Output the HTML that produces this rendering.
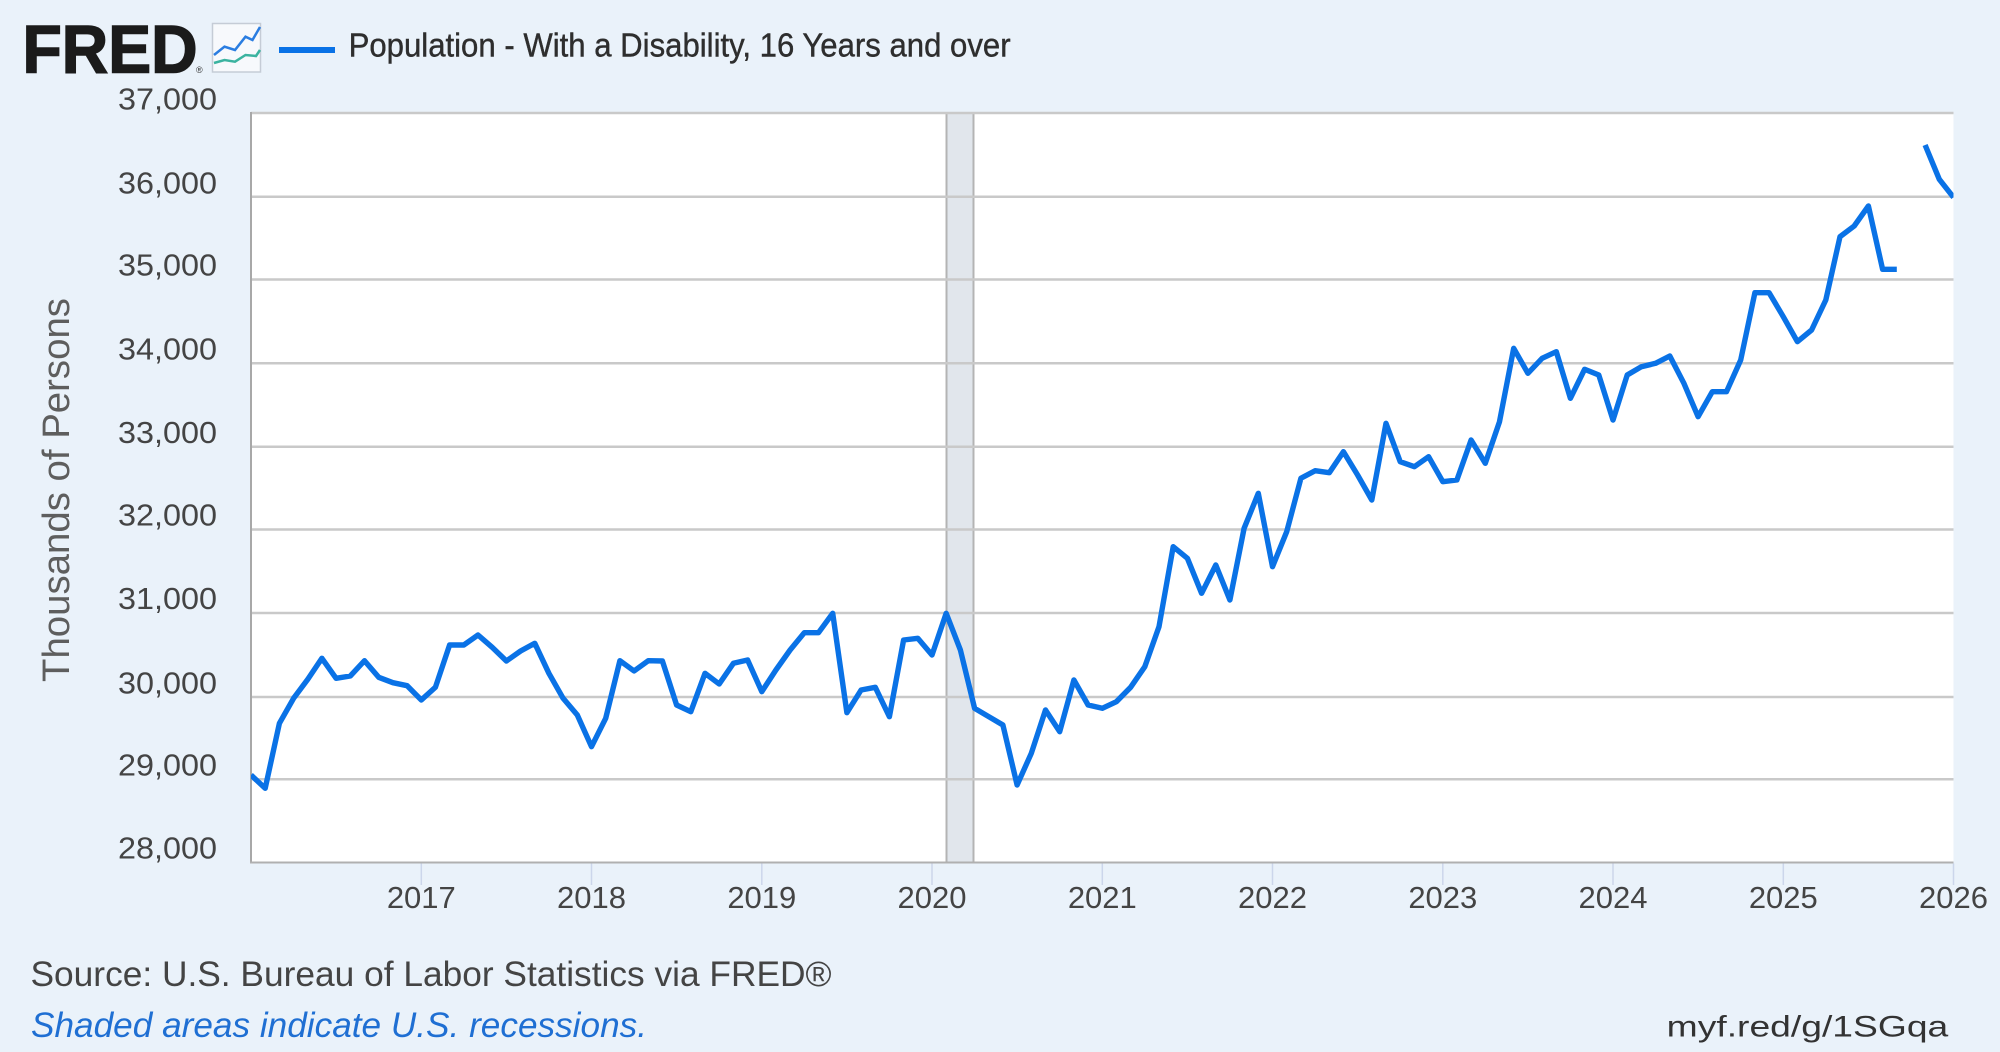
<!DOCTYPE html>
<html>
<head>
<meta charset="utf-8">
<style>
html,body{margin:0;padding:0;background:#eaf2fa;}
svg{display:block;}
</style>
</head>
<body>
<svg width="2000" height="1052" viewBox="0 0 2000 1052" xmlns="http://www.w3.org/2000/svg">
<rect x="0" y="0" width="2000" height="1052" fill="#eaf2fa"/>

<!-- Header -->
<text x="22.5" y="72.7" font-family="Liberation Sans, sans-serif" font-weight="bold" font-size="68" fill="#1b1b1b" stroke="#1b1b1b" stroke-width="1.5" textLength="175" lengthAdjust="spacingAndGlyphs">FRED</text>
<text x="196" y="73" font-family="Liberation Sans, sans-serif" font-size="9" fill="#333">®</text>
<rect x="212.5" y="23.5" width="48" height="48.5" fill="#f7f9fc" stroke="#c5ccd6" stroke-width="1.5"/>
<polyline points="214,55 224.5,46.7 235,50 245.5,36.7 252.5,40 260,27" fill="none" stroke="#2a7de1" stroke-width="2.5"/>
<polyline points="214,63 224.5,60 235,61.7 245.5,55 256,56 260,50" fill="none" stroke="#3bb3a0" stroke-width="2.5"/>
<line x1="279" y1="50" x2="335" y2="50" stroke="#0a72e6" stroke-width="6"/>
<text x="348.6" y="56.7" font-family="Liberation Sans, sans-serif" font-size="33" fill="#2e2e2e" stroke="#2e2e2e" stroke-width="0.4" textLength="662" lengthAdjust="spacingAndGlyphs">Population - With a Disability, 16 Years and over</text>

<!-- Plot area -->
<rect x="251" y="113" width="1702.5" height="749.5" fill="#ffffff"/>
<!-- Recession -->
<rect x="946.5" y="113" width="27" height="749.5" fill="#e1e6ec"/>
<line x1="946.5" y1="113" x2="946.5" y2="862.5" stroke="#b4b4b4" stroke-width="2"/>
<line x1="973.5" y1="113" x2="973.5" y2="862.5" stroke="#b4b4b4" stroke-width="2"/>

<!-- Gridlines -->
<g stroke="#c9c9c9" stroke-width="2.5">
<line x1="251" y1="113" x2="1953.5" y2="113"/>
<line x1="251" y1="196.8" x2="1953.5" y2="196.8"/>
<line x1="251" y1="279.5" x2="1953.5" y2="279.5"/>
<line x1="251" y1="363.2" x2="1953.5" y2="363.2"/>
<line x1="251" y1="446.8" x2="1953.5" y2="446.8"/>
<line x1="251" y1="529.5" x2="1953.5" y2="529.5"/>
<line x1="251" y1="613" x2="1953.5" y2="613"/>
<line x1="251" y1="697" x2="1953.5" y2="697"/>
<line x1="251" y1="779.3" x2="1953.5" y2="779.3"/>
</g>
<!-- axes -->
<line x1="251" y1="112" x2="251" y2="863.5" stroke="#a8a8a8" stroke-width="2"/>
<line x1="250" y1="862.5" x2="1953.5" y2="862.5" stroke="#b0b0b0" stroke-width="2"/>

<!-- x ticks -->
<g stroke="#ccd6eb" stroke-width="1.5">
<line x1="421.3" y1="863.5" x2="421.3" y2="885"/>
<line x1="591.5" y1="863.5" x2="591.5" y2="885"/>
<line x1="761.8" y1="863.5" x2="761.8" y2="885"/>
<line x1="932" y1="863.5" x2="932" y2="885"/>
<line x1="1102.3" y1="863.5" x2="1102.3" y2="885"/>
<line x1="1272.5" y1="863.5" x2="1272.5" y2="885"/>
<line x1="1442.8" y1="863.5" x2="1442.8" y2="885"/>
<line x1="1613" y1="863.5" x2="1613" y2="885"/>
<line x1="1783.3" y1="863.5" x2="1783.3" y2="885"/>
<line x1="1953.5" y1="863.5" x2="1953.5" y2="885"/>
</g>

<!-- Series -->
<defs><clipPath id="pc"><rect x="251" y="100" width="1702.5" height="762.5"/></clipPath></defs>
<g clip-path="url(#pc)" fill="none" stroke="#0a72e6" stroke-width="5.4" stroke-linejoin="round" stroke-linecap="butt">
<polyline points="251.0,775.0 265.2,788.3 279.4,723.3 293.6,698.3 307.8,679.3 321.9,658.3 336.1,678.3 350.3,676.0 364.5,660.7 378.7,677.3 392.9,682.7 407.1,685.7 421.3,700.0 435.4,687.3 449.6,645.0 463.8,645.0 478.0,635.0 492.2,647.3 506.4,661.0 520.6,651.0 534.8,643.3 548.9,673.3 563.1,698.3 577.3,715.0 591.5,746.7 605.7,718.3 619.9,660.7 634.1,671.0 648.3,660.7 662.4,661.0 676.6,705.0 690.8,711.7 705.0,673.3 719.2,684.0 733.4,663.3 747.6,660.0 761.8,691.7 775.9,670.0 790.1,650.0 804.3,632.7 818.5,632.7 832.7,613.3 846.9,712.7 861.1,690.0 875.3,687.3 889.4,716.7 903.6,640.0 917.8,638.3 932.0,655.0 946.2,613.3 960.4,650.0 974.6,708.3 988.8,716.7 1002.9,725.0 1017.1,785.0 1031.3,753.3 1045.5,710.0 1059.7,731.7 1073.9,680.0 1088.1,705.0 1102.3,708.3 1116.4,701.7 1130.6,687.3 1144.8,666.7 1159.0,626.7 1173.2,546.7 1187.4,558.3 1201.6,593.3 1215.8,565.0 1229.9,600.0 1244.1,528.3 1258.3,493.3 1272.5,566.7 1286.7,531.7 1300.9,478.3 1315.1,470.7 1329.3,472.7 1343.4,451.7 1357.6,475.0 1371.8,500.0 1386.0,423.3 1400.2,461.7 1414.4,466.7 1428.6,456.7 1442.8,481.7 1456.9,480.0 1471.1,440.0 1485.3,463.3 1499.5,421.7 1513.7,348.3 1527.9,373.3 1542.1,358.3 1556.3,351.7 1570.4,398.3 1584.6,369.3 1598.8,375.0 1613.0,420.0 1627.2,375.0 1641.4,366.7 1655.6,363.3 1669.8,356.0 1683.9,383.3 1698.1,416.7 1712.3,391.7 1726.5,391.7 1740.7,360.0 1754.9,292.7 1769.1,292.7 1783.3,316.7 1797.4,341.7 1811.6,330.0 1825.8,300.0 1840.0,236.7 1854.2,226.0 1868.4,206.0 1882.6,269.3 1896.8,269.3"/>
<polyline points="1925.1,145.0 1939.3,179.3 1953.5,197.3"/>
</g>

<!-- Y labels -->
<g font-family="Liberation Sans, sans-serif" font-size="31" fill="#444" text-anchor="end">
<text x="217" y="109.3" textLength="99" lengthAdjust="spacingAndGlyphs">37,000</text>
<text x="217" y="193.3" textLength="99" lengthAdjust="spacingAndGlyphs">36,000</text>
<text x="217" y="275.5" textLength="99" lengthAdjust="spacingAndGlyphs">35,000</text>
<text x="217" y="359.3" textLength="99" lengthAdjust="spacingAndGlyphs">34,000</text>
<text x="217" y="443" textLength="99" lengthAdjust="spacingAndGlyphs">33,000</text>
<text x="217" y="525.5" textLength="99" lengthAdjust="spacingAndGlyphs">32,000</text>
<text x="217" y="609" textLength="99" lengthAdjust="spacingAndGlyphs">31,000</text>
<text x="217" y="693.3" textLength="99" lengthAdjust="spacingAndGlyphs">30,000</text>
<text x="217" y="775.3" textLength="99" lengthAdjust="spacingAndGlyphs">29,000</text>
<text x="217" y="858.5" textLength="99" lengthAdjust="spacingAndGlyphs">28,000</text>
</g>

<!-- X labels -->
<g font-family="Liberation Sans, sans-serif" font-size="31" fill="#444" text-anchor="middle">
<text x="421.3" y="908">2017</text>
<text x="591.5" y="908">2018</text>
<text x="761.8" y="908">2019</text>
<text x="932" y="908">2020</text>
<text x="1102.3" y="908">2021</text>
<text x="1272.5" y="908">2022</text>
<text x="1442.8" y="908">2023</text>
<text x="1613" y="908">2024</text>
<text x="1783.3" y="908">2025</text>
<text x="1953.5" y="908">2026</text>
</g>

<!-- Y axis title -->
<text transform="translate(69,490) rotate(-90)" x="0" y="0" text-anchor="middle" font-family="Liberation Sans, sans-serif" font-size="38" fill="#5e5e5e" textLength="384" lengthAdjust="spacingAndGlyphs">Thousands of Persons</text>

<!-- Footer -->
<text x="30.5" y="986" font-family="Liberation Sans, sans-serif" font-size="35" fill="#444" textLength="801" lengthAdjust="spacingAndGlyphs">Source: U.S. Bureau of Labor Statistics via FRED®</text>
<text x="31" y="1037" font-family="Liberation Sans, sans-serif" font-style="italic" font-size="35" fill="#1f6fd3" textLength="616" lengthAdjust="spacingAndGlyphs">Shaded areas indicate U.S. recessions.</text>
<text x="1666.7" y="1036.7" font-family="Liberation Sans, sans-serif" font-size="30" fill="#333" textLength="281.6" lengthAdjust="spacingAndGlyphs">myf.red/g/1SGqa</text>
</svg>
</body>
</html>
